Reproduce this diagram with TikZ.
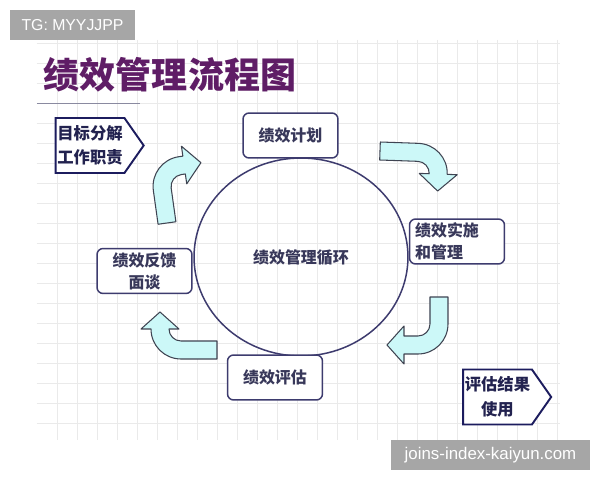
\documentclass[tikz,border=0pt]{standalone}
\usepackage{fontspec}
\setmainfont{Noto Sans CJK SC}
\newfontfamily\wmfont{Liberation Sans}
\usetikzlibrary{shapes.geometric,shapes.symbols}
\definecolor{gridgray}{HTML}{EAEAEA}
\definecolor{boxline}{HTML}{3D3B6E}
\definecolor{stagetext}{HTML}{38385A}
\definecolor{tagline}{HTML}{1C1C5E}
\definecolor{tagtext}{HTML}{22224F}
\definecolor{titlepurple}{HTML}{5F1D66}
\definecolor{markgray}{HTML}{A6A6A6}
\definecolor{arrowcyan}{HTML}{CCF8F8}
\definecolor{arrowline}{HTML}{3F4452}
\definecolor{rulegray}{HTML}{8A8AA0}
\tikzset{
  stage/.style={
    draw=boxline,
    line width=0.85pt,
    fill=white,
    rounded corners=3.5pt,
    minimum width=1.9cm,
    minimum height=0.9cm,
    inner sep=0pt,
    font=\fontsize{9.1}{12.5}\selectfont\bfseries,
    text=stagetext,
    align=center
  },
  tag/.style={
    shape=signal, signal to=east, signal pointer angle=110,
    draw=tagline, line width=1.1pt, fill=white,
    minimum width=1.72cm, minimum height=1.1cm, inner sep=1pt,
    font=\fontsize{9.3}{14}\selectfont\bfseries, text=tagtext, align=center
  },
  hub/.style={ellipse, draw=boxline, line width=0.85pt, minimum width=4.28cm,
    minimum height=3.96cm, inner sep=0pt, font=\fontsize{9.1}{12}\selectfont\bfseries, text=stagetext},
  ttl/.style={font=\fontsize{20.5}{24}\selectfont\bfseries, text=titlepurple, inner sep=0pt},
  wmark/.style={fill=markgray, text=white, inner sep=0pt, minimum height=0.6cm},
  blockarrow/.style={draw=arrowline, fill=arrowcyan, line width=0.6pt, line join=round},
  gridline/.style={draw=gridgray, line width=0.5pt},
}
% #1 tail centre, #2 rotation, #3 straight run, #4 run after the bend
\newcommand{\BendArrow}[4]{%
  \begin{scope}[shift={#1}, rotate=#2]
    \draw[blockarrow] (-9,0) -- (-9,-#3)
      .. controls (-9,-#3-16.6) and (4.4,-#3-30) .. (21,-#3-30)
      -- (21+#4,-#3-30) -- (21+#4,-#3-40) -- (38+#4,-#3-21)
      -- (21+#4,-#3-2) -- (21+#4,-#3-12) -- (21,-#3-12)
      .. controls (14.4,-#3-12) and (9,-#3-6.6) .. (9,-#3)
      -- (9,0) -- cycle;
  \end{scope}
}

\begin{document}
\begin{tikzpicture}[x=0.02cm, y=-0.02cm]
  \useasboundingbox[fill=white] (0,0) rectangle (600,480);
  \foreach \gx in {57,77,...,557} \draw[gridline] (\gx,40) -- (\gx,440);
  \foreach \gy in {43,63,...,423} \draw[gridline] (37,\gy) -- (560,\gy);

  \node[wmark, minimum width=2.5cm, font=\wmfont\fontsize{9}{11}\selectfont] (wmtop) at (72.5,25) {TG: MYYJJPP};
  \node[ttl] (title) at (170,75) {绩效管理流程图};
  \draw[rulegray, line width=0.5pt] (37,103) -- (140,103);

  \BendArrow{(167,223)}{8}{34}{4}
  \BendArrow{(380,151)}{-92}{38}{0}
  \BendArrow{(439,297)}{180}{27}{14}
  \BendArrow{(217,350)}{90}{36}{0}

  \node[hub] (cycle) at (301,257) {绩效管理循环};
  \node[stage] (plan) at (290.5,135.5) {绩效计划};
  \node[stage] (execute) at (457,241.5) {\hspace*{-4mm}绩效实施\\\hspace*{-4mm}和管理\hspace*{9.1pt}};
  \node[stage] (review) at (275,377.5) {绩效评估};
  \node[stage] (feedback) at (144.5,271) {绩效反馈\\面谈};

  \node[tag] (goals) at (90,145.5) {目标分解\\工作职责};
  \node[tag] (results) at (497.5,397) {评估结果\\使用};

  \node[wmark, minimum width=3.98cm, font=\wmfont\fontsize{9.6}{11}\selectfont] (wmbottom) at (490.5,455) {joins-index-kaiyun.com};
\end{tikzpicture}
\end{document}
